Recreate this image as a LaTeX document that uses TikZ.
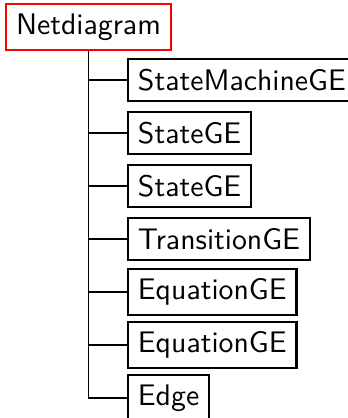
\documentclass[tikz,border=0pt]{standalone}
\begin{document}
\begin{tikzpicture}[x=0.336pt, y=-0.336pt,
  every node/.style={font=\sffamily},
  leaf/.style={draw=black, line width=0.7pt, anchor=west, inner sep=0.3333em},
  rootbox/.style={draw=red, line width=0.7pt, inner sep=0.3333em},
  branch/.style={draw=black, line width=0.4pt}]
  \useasboundingbox (0,0) rectangle (347,418);

  % root of the tree
  \node[rootbox] (root) at (88.5,27) {Netdiagram};

  % children, all aligned on their west side
  \node[leaf] (c1) at (127,80)  {StateMachineGE};
  \node[leaf] (c2) at (127,133) {StateGE};
  \node[leaf] (c3) at (127,186) {StateGE};
  \node[leaf] (c4) at (127,239) {TransitionGE};
  \node[leaf] (c5) at (127,292) {EquationGE};
  \node[leaf] (c6) at (127,345) {EquationGE};
  \node[leaf] (c7) at (127,398) {Edge};

  % edges from the root down the trunk into each child
  \foreach \c in {c1,c2,c3,c4,c5,c6,c7}
    \draw[branch] (root.south) |- (\c.west);
\end{tikzpicture}
\end{document}
